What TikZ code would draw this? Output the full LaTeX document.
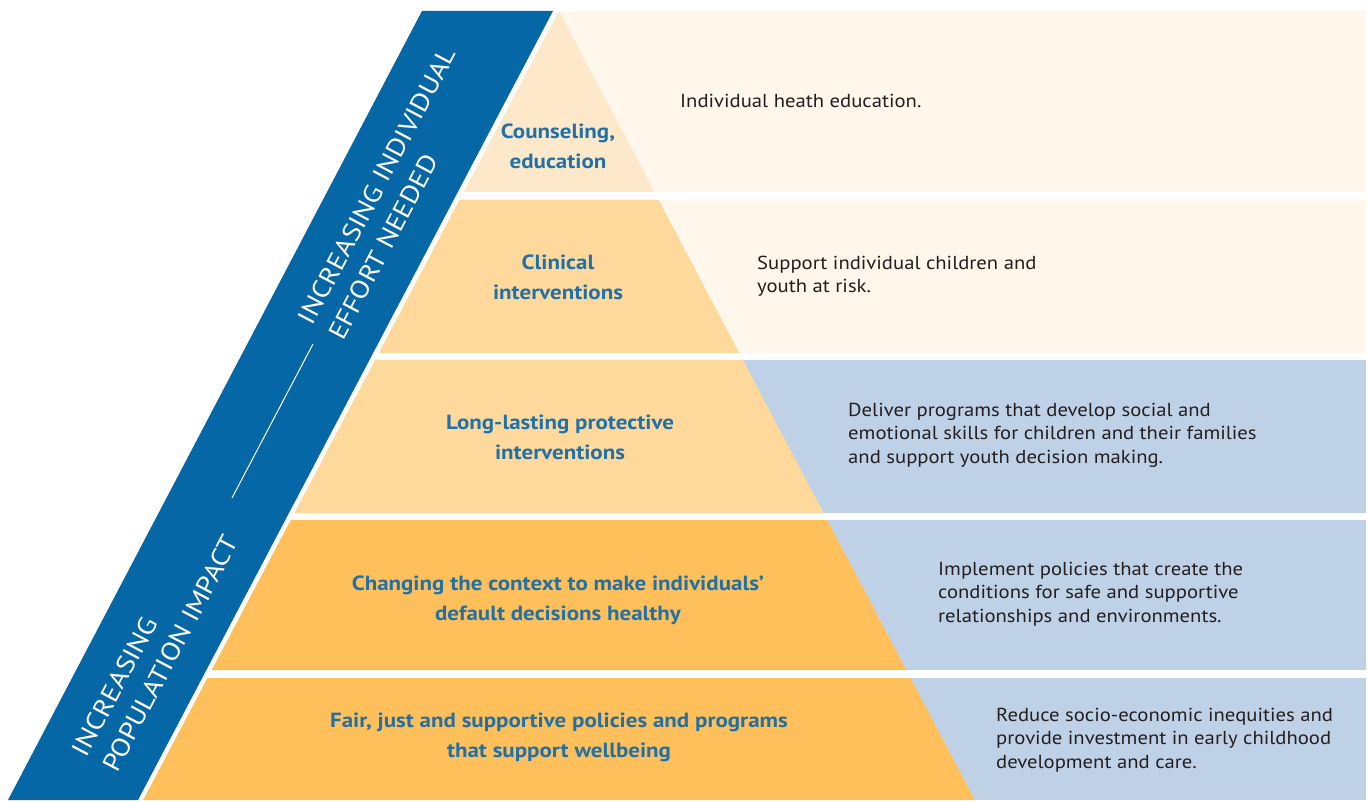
\documentclass[tikz,border=0pt]{standalone}
\usepackage{fontspec}
\setmainfont{PT Sans}
\newfontfamily\descfont[FakeStretch=1.1]{PT Sans}
\newfontfamily\titlefont[FakeStretch=1.12]{PT Sans}
\newfontfamily\bandfont[FakeStretch=1.12]{PT Sans}
\definecolor{bandblue}{HTML}{0567A5}
\definecolor{tierA}{HTML}{FEE8CA}
\definecolor{tierB}{HTML}{FFD89B}
\definecolor{tierC}{HTML}{FFBF5A}
\definecolor{panelcream}{HTML}{FFF6EC}
\definecolor{panelblue}{HTML}{BFD1E7}
\definecolor{titleblue}{HTML}{2170A6}
\definecolor{desctext}{HTML}{231F20}
\tikzset{
  tiertitle/.style={align=center, inner sep=0pt, text=titleblue,
    font=\titlefont\bfseries\fontsize{20.5}{30}\selectfont},
  tierdesc/.style={align=left, anchor=west, inner sep=0pt, text=desctext,
    font=\descfont\fontsize{18.8}{23.5}\selectfont},
  bandtext/.style={align=left, anchor=west, inner sep=0pt, text=white,
    rotate=62.2, font=\bandfont\fontsize{25.5}{34}\selectfont},
}
\begin{document}
\begin{tikzpicture}[x=1pt,y=-1pt]
\useasboundingbox (0,0) rectangle (1369,802);
\fill[white] (0,0) rectangle (1369,802);
% blue band
\fill[bandblue] (422,11) -- (553,11) -- (138,800) -- (8,800) -- cycle;
% right panels
\fill[panelcream] (559,11) rectangle (1366,192);
\fill[panelcream] (559,200) rectangle (1366,353);
\fill[panelblue] (559,360) rectangle (1366,513);
\fill[panelblue] (559,520) rectangle (1366,670);
\fill[panelblue] (559,678) rectangle (1366,800);
% pyramid tiers
\fill[tierA] (559,11) -- (654.4,192) -- (463.6,192) -- cycle;
\fill[tierB] (459.4,200) -- (658.6,200) -- (739.2,353) -- (378.8,353) -- cycle;
\fill[tierB] (375.1,360) -- (742.9,360) -- (823.6,513) -- (294.4,513) -- cycle;
\fill[tierC] (290.8,520) -- (827.2,520) -- (906.3,670) -- (211.7,670) -- cycle;
\fill[tierC] (207.5,678) -- (910.5,678) -- (974.8,800) -- (143.2,800) -- cycle;
% titles
\node[tiertitle] (t1) at (558,146) {Counseling,\\education};
\node[tiertitle] (t2) at (558,277.5) {Clinical\\interventions};
\node[tiertitle] (t3) at (560,437) {Long-lasting protective\\interventions};
\node[tiertitle] (t4) at (558,600) {Changing the context to make individuals’\\default decisions healthy};
\node[tiertitle] (t5) at (559,737.5) {Fair, just and supportive policies and programs\\that support wellbeing};
% descriptions
\node[tierdesc] (d1) at (680,101) {Individual heath education.};
\node[tierdesc] (d2) at (757,276) {Support individual children and\\youth at risk.};
\node[tierdesc] (d3) at (848,435) {Deliver programs that develop social and\\emotional skills for children and their families\\and support youth decision making.};
\node[tierdesc] (d4) at (938,594) {Implement policies that create the\\conditions for safe and supportive\\relationships and environments.};
\node[tierdesc] (d5) at (996,740) {Reduce socio-economic inequities and\\provide investment in early childhood\\development and care.};
% band texts
\node[bandtext] (bt1) at (320,330) {INCREASING INDIVIDUAL\\EFFORT NEEDED};
\node[bandtext] (bt2) at (94,762) {INCREASING\\POPULATION IMPACT};
\coordinate (s1) at (232,498);
\coordinate (s2) at (313,344);
\draw[white, line width=1pt] (s1) -- (s2);
\end{tikzpicture}
\end{document}
